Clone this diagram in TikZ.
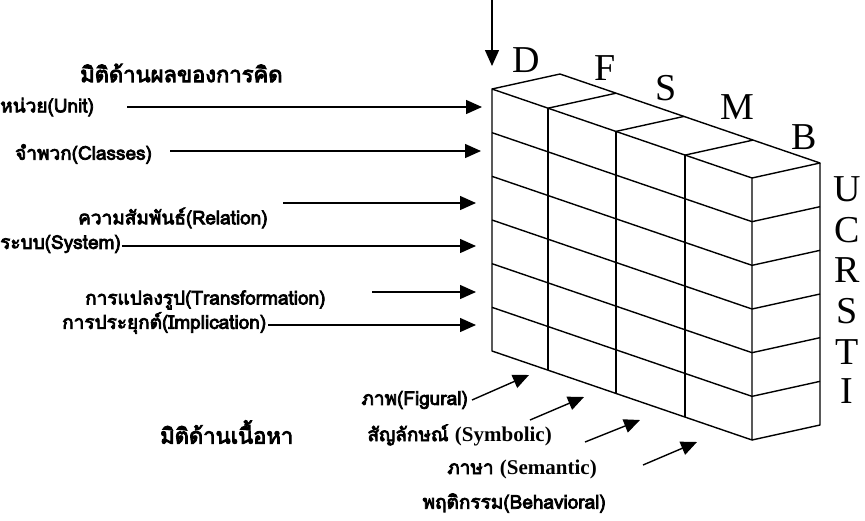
\documentclass[tikz,border=0pt]{standalone}
\usepackage{fontspec}
\setmainfont{Liberation Serif}
\newfontfamily\thai[Script=Thai,FakeBold=4]{Loma}
\usetikzlibrary{arrows.meta,calc}
\begin{document}
\begin{tikzpicture}[x=1pt,y=-1pt,
  lbl/.style={font=\thai\fontsize{19}{22}\selectfont, inner sep=0pt},
  ttl/.style={font=\thai\fontsize{22}{25}\selectfont, inner sep=0pt},
  lat/.style={font=\rmfamily\bfseries\fontsize{21}{22}\selectfont},
  big/.style={font=\fontsize{38}{40}\selectfont, inner sep=0pt},
  arr/.style={line width=1.4pt, -{Triangle[length=16pt,width=14pt]}},
  cube/.style={line width=1.4pt, line join=round}]
\useasboundingbox (0,0) rectangle (865,520);

% ---------- cube (front face, top, right side) ----------
\def\H{43.67}
\foreach \i/\x/\y in {0/492/89,1/548/108.2,2/616/131.4,3/685/155.1,4/752/178}{
  \coordinate (F\i) at (\x,\y);
  \coordinate (K\i) at (\x+68,\y-15);
  \coordinate (G\i) at (\x,\y+262);
}
\draw[cube] (F0) -- (F4) -- (G4) -- (G0) -- cycle;
\foreach \i in {1,2,3}{ \draw[cube] (F\i) -- (G\i); }
\foreach \k in {1,...,5}{
  \draw[cube] ($(F0)+(0,\k*\H)$) -- ($(F4)+(0,\k*\H)$);
}
\draw[cube] (F0) -- (K0) -- (K4) -- (F4);
\foreach \i in {1,2,3}{ \draw[cube] (F\i) -- (K\i); }
\draw[cube] (K4) -- ($(K4)+(0,262)$) -- (G4);
\foreach \k in {1,...,5}{
  \draw[cube] ($(F4)+(0,\k*\H)$) -- ($(K4)+(0,\k*\H)$);
}

% ---------- letters ----------
\node[big] (lD) at (526,60) {D};
\node[big] (lF) at (605,68) {F};
\node[big] (lS) at (666,88) {S};
\node[big] (lM) at (737,107) {M};
\node[big] (lB) at (804,137) {B};
\node[big] (rU) at (847,189) {U};
\node[big] (rC) at (847,230) {C};
\node[big] (rR) at (847,270) {R};
\node[big] (rS) at (847,311) {S};
\node[big] (rT) at (847,352) {T};
\node[big] (rI) at (847,391) {I};

\coordinate (topS) at (492,0);
\coordinate (topE) at (492,66);
\draw[arr] (topS) -- (topE);

% ---------- left dimension ----------
\node[ttl, anchor=west] (t1) at (80,73) {มิติด้านผลของการคิด};
\node[lbl, anchor=west] (uUnit) at (0,107) {หน่วย(Unit)};
\node[lbl, anchor=west] (uCls) at (15,154) {จำพวก(Classes)};
\node[lbl, anchor=west] (uRel) at (78,218) {ความสัมพันธ์(Relation)};
\node[lbl, anchor=west] (uSys) at (0,244) {ระบบ(System)};
\node[lbl, anchor=west] (uTra) at (85,300) {การแปลงรูป(Transformation)};
\node[lbl, anchor=west] (uImp) at (62,323) {การประยุกต์(Implication)};

\coordinate (sUnit) at (127,107); \coordinate (eUnit) at (482,107);
\coordinate (sCls) at (170,151);  \coordinate (eCls) at (481,151);
\coordinate (sRel) at (283,203);  \coordinate (eRel) at (476,203);
\coordinate (sSys) at ($(uSys.east)+(1,2)$); \coordinate (eSys) at (476,246);
\coordinate (sTra) at (372,292);  \coordinate (eTra) at (476,292);
\coordinate (sImp) at ($(uImp.east)+(2,2)$); \coordinate (eImp) at (476,325);
\draw[arr] (sUnit) -- (eUnit);
\draw[arr] (sCls) -- (eCls);
\draw[arr] (sRel) -- (eRel);
\draw[arr] (sSys) -- (eSys);
\draw[arr] (sTra) -- (eTra);
\draw[arr] (sImp) -- (eImp);

% ---------- bottom dimension ----------
\node[ttl, anchor=west] (t2) at (160,432) {มิติด้านเนื้อหา};
\node[lbl, anchor=east] (bFig) at (468,400) {ภาพ(Figural)};
\node[lbl, anchor=east] (bSym) at (552,435) {สัญลักษณ์ {\rmfamily\bfseries\fontsize{21}{22}\selectfont (Symbolic)}};
\node[lbl, anchor=east] (bSem) at (597,469) {ภาษา {\rmfamily\bfseries\fontsize{21}{22}\selectfont (Semantic)}};
\node[lbl, anchor=east] (bBeh) at (606,503) {พฤติกรรม(Behavioral)};

\coordinate (sFig) at (472,400); \coordinate (eFig) at (529,375);
\coordinate (sSym) at (530,420); \coordinate (eSym) at (584,397);
\coordinate (sSem) at (585,442); \coordinate (eSem) at (640,420);
\coordinate (sBeh) at (643,465); \coordinate (eBeh) at (697,442);
\draw[arr] (sFig) -- (eFig);
\draw[arr] (sSym) -- (eSym);
\draw[arr] (sSem) -- (eSem);
\draw[arr] (sBeh) -- (eBeh);
\end{tikzpicture}
\end{document}
